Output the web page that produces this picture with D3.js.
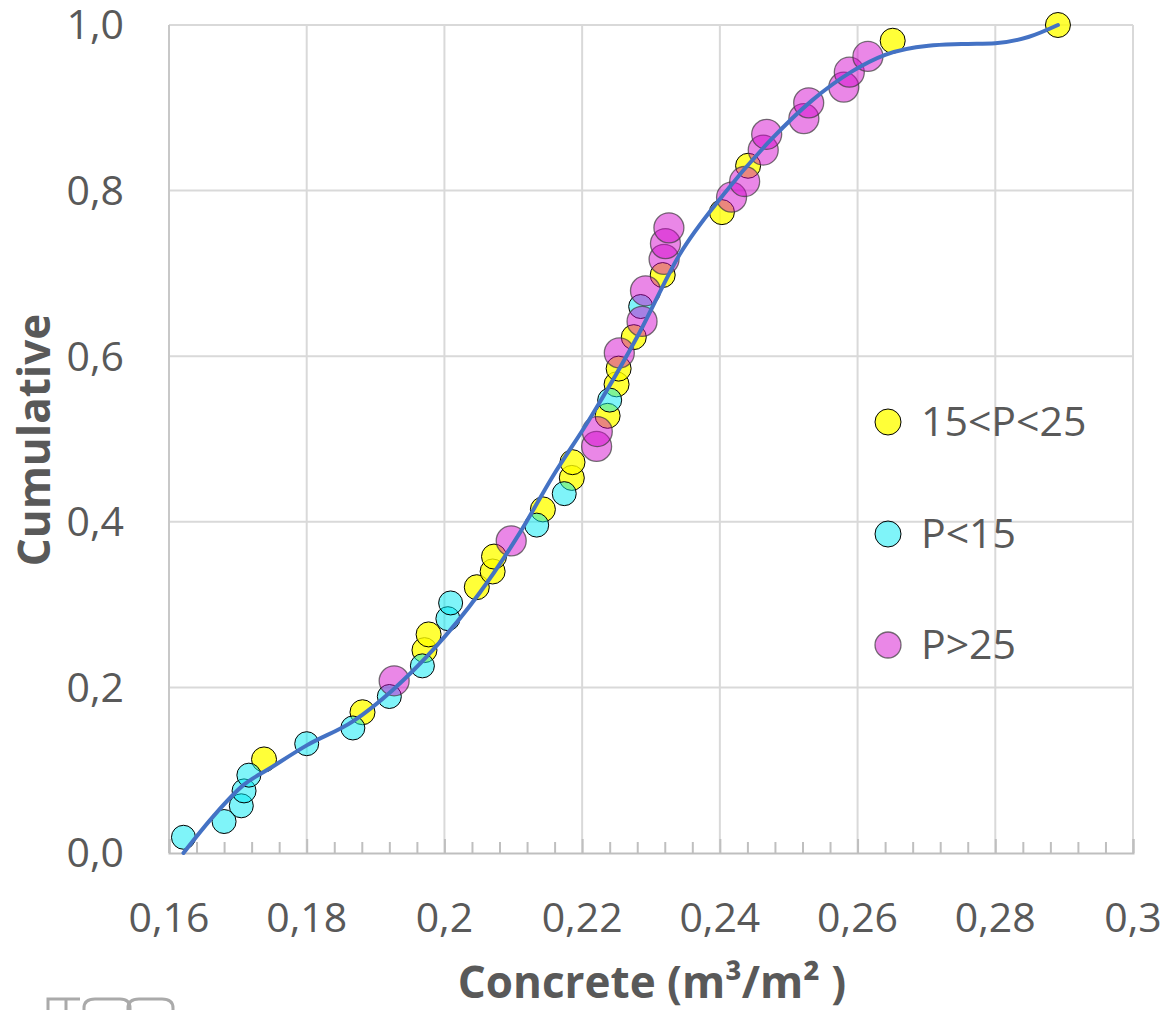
<!DOCTYPE html>
<html>
<head>
<meta charset="utf-8">
<script src="https://cdn.jsdelivr.net/npm/d3@7"></script>
<style>
  html, body { margin: 0; padding: 0; background: #fff; }
  svg { display: block; }
</style>
</head>
<body>
<svg id="chart" width="1166" height="1010"></svg>
<script>
// ---------- data ----------
const seriesNames = ["15<P<25", "P<15", "P>25"];

const yellowX = [0.1738, 0.1881, 0.1971, 0.1977, 0.2047, 0.2070, 0.2072, 0.2143, 0.2185, 0.2186,
                 0.2237, 0.2250, 0.2253, 0.2275, 0.2317, 0.2403, 0.2441, 0.2651, 0.2891];
const yellowY = [0.113, 0.170, 0.245, 0.264, 0.321, 0.340, 0.358, 0.415, 0.453, 0.472,
                 0.528, 0.566, 0.585, 0.623, 0.698, 0.774, 0.830, 0.981, 1.000];

const cyanX = [0.1621, 0.1680, 0.1705, 0.1709, 0.1716, 0.1800, 0.1867, 0.1920, 0.1968, 0.2005,
               0.2009, 0.2134, 0.2174, 0.2240, 0.2285];
const cyanY = [0.019, 0.038, 0.057, 0.075, 0.094, 0.132, 0.151, 0.189, 0.226, 0.283,
               0.302, 0.396, 0.434, 0.547, 0.660];

const pinkX = [0.1927, 0.2097, 0.2221, 0.2222, 0.2254, 0.2287, 0.2292, 0.2319, 0.2321, 0.2326,
               0.2417, 0.2436, 0.2463, 0.2468, 0.2522, 0.2529, 0.2580, 0.2588, 0.2615];
const pinkY = [0.208, 0.377, 0.491, 0.509, 0.604, 0.642, 0.679, 0.717, 0.736, 0.755,
               0.792, 0.811, 0.849, 0.868, 0.887, 0.906, 0.925, 0.943, 0.962];

const curveX = [0.1621, 0.1664, 0.1708, 0.1746, 0.1800, 0.1867, 0.1925, 0.1983, 0.2051, 0.2109,
                0.2157, 0.2210, 0.2283, 0.2341, 0.2405, 0.2476, 0.2534, 0.2592, 0.2640, 0.2703,
                0.2751, 0.2800, 0.2848, 0.2891];
const curveY = [0.000, 0.044, 0.082, 0.102, 0.130, 0.159, 0.197, 0.245, 0.314, 0.386,
                0.4545, 0.523, 0.628, 0.722, 0.795, 0.863, 0.909, 0.944, 0.964, 0.975,
                0.977, 0.978, 0.9855, 1.000];

const xTicks = [0.16, 0.18, 0.20, 0.22, 0.24, 0.26, 0.28, 0.30];
const xTickLabels = ["0,16", "0,18", "0,2", "0,22", "0,24", "0,26", "0,28", "0,3"];
const yTicks = [0.0, 0.2, 0.4, 0.6, 0.8, 1.0];
const yTickLabels = ["0,0", "0,2", "0,4", "0,6", "0,8", "1,0"];
const xMinorTicks = [0.164, 0.168, 0.172, 0.176, 0.184, 0.188, 0.192, 0.196, 0.204, 0.208, 0.212, 0.216,
                     0.224, 0.228, 0.232, 0.236, 0.244, 0.248, 0.252, 0.256, 0.264, 0.268, 0.272, 0.276,
                     0.284, 0.288, 0.292, 0.296];

// ---------- layout ----------
const svg = d3.select("#chart");
const L = 169, R = 1133, T = 25, B = 853;
const x = d3.scaleLinear().domain([0.16, 0.30]).range([L, R]);
const y = d3.scaleLinear().domain([0, 1]).range([B, T]);
const textColor = "#595959";
const font = "'Open Sans', 'Noto Sans', sans-serif";

// gridlines
svg.append("g").selectAll("line").data(yTicks.filter(d => d > 0)).join("line")
  .attr("x1", L).attr("x2", R).attr("y1", d => y(d)).attr("y2", d => y(d))
  .attr("stroke", "#d9d9d9").attr("stroke-width", 2);
svg.append("g").selectAll("line").data(xTicks.filter(d => d > 0.16)).join("line")
  .attr("x1", d => x(d)).attr("x2", d => x(d)).attr("y1", T).attr("y2", B)
  .attr("stroke", "#d9d9d9").attr("stroke-width", 2);

// left axis line
svg.append("line").attr("x1", L).attr("x2", L).attr("y1", T).attr("y2", B)
  .attr("stroke", "#c8c8c8").attr("stroke-width", 2);

// bottom axis with inside ticks
const xAxis = d3.axisBottom(x).tickValues(xTicks).tickSize(-14).tickFormat("");
const gx = svg.append("g").attr("transform", `translate(0,${B})`).call(xAxis);
gx.select(".domain").attr("stroke", "#bfbfbf").attr("stroke-width", 2);
gx.selectAll(".tick line").attr("stroke", "#bfbfbf").attr("stroke-width", 2);
const xMinor = d3.axisBottom(x).tickValues(xMinorTicks).tickSize(-11).tickFormat("");
const gxm = svg.append("g").attr("transform", `translate(0,${B})`).call(xMinor);
gxm.select(".domain").remove();
gxm.selectAll(".tick line").attr("stroke", "#bfbfbf").attr("stroke-width", 2);

// tick labels
svg.append("g").selectAll("text").data(xTicks).join("text")
  .attr("x", d => x(d)).attr("y", 932)
  .attr("text-anchor", "middle")
  .attr("font-family", font).attr("font-size", 41).attr("fill", textColor)
  .text((d, i) => xTickLabels[i]);
svg.append("g").selectAll("text").data(yTicks).join("text")
  .attr("x", 124).attr("y", d => y(d)).attr("dy", "0.35em")
  .attr("text-anchor", "end")
  .attr("font-family", font).attr("font-size", 41).attr("fill", textColor)
  .text((d, i) => yTickLabels[i]);

// axis titles
svg.append("text").attr("x", 652).attr("y", 998)
  .attr("text-anchor", "middle").attr("font-family", font).attr("font-weight", "bold")
  .attr("font-size", 44).attr("fill", textColor)
  .text("Concrete (m³/m² )");
svg.append("text").attr("transform", "translate(50,440) rotate(-90)")
  .attr("text-anchor", "middle").attr("font-family", font).attr("font-weight", "bold")
  .attr("font-size", 44).attr("fill", textColor)
  .text("Cumulative");

// series styles
const styles = [
  { fill: "rgba(255,255,0,0.78)", stroke: "#000", sw: 1, r: 12.5 },
  { fill: "rgba(0,233,243,0.5)", stroke: "#000", sw: 1, r: 12 },
  { fill: "rgba(210,0,205,0.47)", stroke: "rgba(60,60,60,0.7)", sw: 1.3, r: 15 }
];
const seriesData = [
  d3.zip(yellowX, yellowY),
  d3.zip(cyanX, cyanY),
  d3.zip(pinkX, pinkY)
];

seriesData.forEach((pts, k) => {
  const s = styles[k];
  svg.append("g").selectAll("circle").data(pts).join("circle")
    .attr("cx", d => x(d[0])).attr("cy", d => y(d[1])).attr("r", s.r)
    .attr("fill", s.fill).attr("stroke", s.stroke).attr("stroke-width", s.sw);
});

// trend curve
const line = d3.line().x(d => x(d[0])).y(d => y(d[1])).curve(d3.curveMonotoneX);
svg.append("path").datum(d3.zip(curveX, curveY))
  .attr("d", line).attr("fill", "none")
  .attr("stroke", "#4472c4").attr("stroke-width", 4).attr("stroke-linecap", "round");

// legend
const legendY = [422, 534, 645];
seriesNames.forEach((name, k) => {
  const s = styles[k];
  svg.append("circle").attr("cx", 888).attr("cy", legendY[k]).attr("r", 13)
    .attr("fill", s.fill).attr("stroke", s.stroke).attr("stroke-width", s.sw);
  svg.append("text").attr("x", 921).attr("y", legendY[k]).attr("dy", "0.35em")
    .attr("font-family", font).attr("font-size", 41).attr("fill", textColor)
    .text(name);
});

// partial logo at the bottom-left edge
const logo = svg.append("g").attr("fill", "none").attr("stroke", "#aaaaaa").attr("stroke-width", 3);
logo.append("path").attr("d", "M48,1010 L48,999 L80,999 M66,999 L66,1010");
logo.append("path").attr("d", "M84,1010 L84,1008 Q84,999 95,999 L120,999 Q130,999 130,1008 L130,1010");
logo.append("path").attr("d", "M128,1010 L128,1008 Q128,999 139,999 L162,999 Q173,999 173,1008 L173,1010");
</script>
</body>
</html>
